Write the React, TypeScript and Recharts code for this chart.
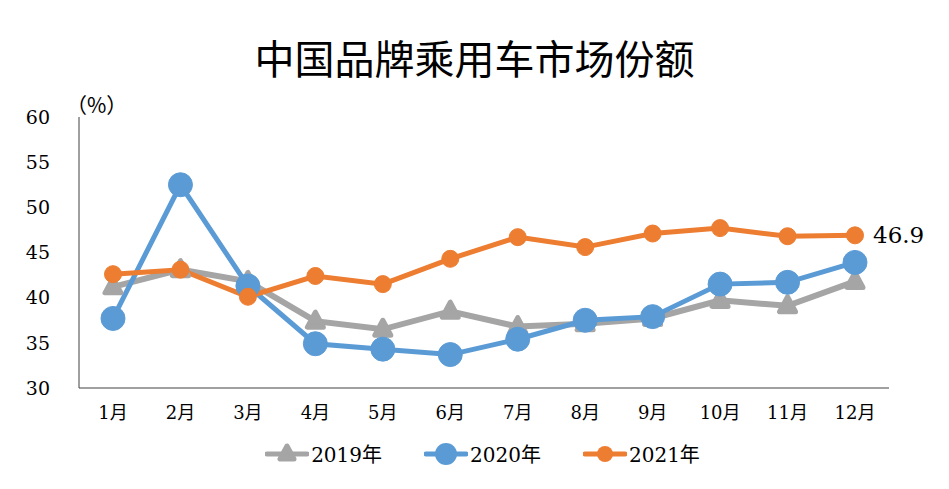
import { LineChart, Line, XAxis, YAxis, LabelList } from "recharts"

const months = ["1月", "2月", "3月", "4月", "5月", "6月", "7月", "8月", "9月", "10月", "11月", "12月"]
const share2019 = [41.2, 43.1, 41.8, 37.4, 36.5, 38.5, 36.8, 37.1, 37.7, 39.7, 39.1, 41.8]
const share2020 = [37.7, 52.5, 41.3, 34.9, 34.3, 33.7, 35.4, 37.5, 37.9, 41.5, 41.7, 43.9]
const share2021 = [42.6, 43.1, 40.1, 42.4, 41.5, 44.3, 46.7, 45.6, 47.1, 47.7, 46.8, 46.9]
const yTicks = [30, 35, 40, 45, 50, 55, 60]

const GRAY = "#a5a5a5"
const BLUE = "#5b9bd5"
const ORANGE = "#ed7d31"
const numFont = "'DejaVu Serif', 'Noto Sans CJK SC', serif"

const data = months.map((m, i) => ({
  month: m,
  y2019: share2019[i],
  y2020: share2020[i],
  y2021: share2021[i],
}))

function Triangle(props: any) {
  const { cx, cy, index } = props
  if (cx == null || cy == null) return null
  return (
    <polygon
      key={`tri-${index}`}
      points={`${cx},${cy - 9} ${cx - 8},${cy + 6} ${cx + 8},${cy + 6}`}
      fill={GRAY}
      stroke={GRAY}
      strokeWidth={5}
      strokeLinejoin="round"
    />
  )
}

function LastLabel(props: any) {
  const { x, y, index, value } = props
  if (index !== share2021.length - 1) return null
  return (
    <text x={x + 18} y={y} dy={8} fontSize={23} fontFamily={numFont} fill="#000">
      {value}
    </text>
  )
}

function LegendIcon({ type, color }: { type: string; color: string }) {
  return (
    <svg width={44} height={24} style={{ marginRight: 2 }}>
      <line x1={2} y1={12} x2={42} y2={12} stroke={color} strokeWidth={5} strokeLinecap="round" />
      {type === "triangle" ? (
        <polygon points="22,4 15,17 29,17" fill={color} stroke={color} strokeWidth={5} strokeLinejoin="round" />
      ) : (
        <circle cx={22} cy={12} r={type === "big" ? 11 : 8} fill={color} />
      )}
    </svg>
  )
}

const legendItems = [
  { name: "2019年", type: "triangle", color: GRAY },
  { name: "2020年", type: "big", color: BLUE },
  { name: "2021年", type: "small", color: ORANGE },
]

export default function App() {
  return (
    <div style={{ position: "absolute", left: 0, top: 0, width: 949, height: 489, background: "#fff", fontFamily: numFont }}>
      <div
        style={{
          position: "absolute",
          top: 28,
          left: 0,
          width: 949,
          textAlign: "center",
          fontFamily: "'Noto Sans CJK SC', sans-serif",
          fontSize: 40,
          lineHeight: "58px",
          color: "#000",
        }}
      >
        中国品牌乘用车市场份额
      </div>
      <div style={{ position: "absolute", top: 89, left: 66, fontSize: 21, fontFamily: "'Noto Sans CJK SC', sans-serif", color: "#000" }}>
        （%）
      </div>
      <LineChart width={949} height={489} data={data} margin={{ top: 117, right: 60, bottom: 61, left: 0 }}>
        <XAxis
          dataKey="month"
          axisLine={{ stroke: "#404040", strokeWidth: 1 }}
          tickLine={false}
          tickMargin={12}
          height={40}
          padding={{ left: 34, right: 34 }}
          interval={0}
          tick={{ fontSize: 18, fill: "#000", fontFamily: numFont }}
        />
        <YAxis
          domain={[30, 60]}
          ticks={yTicks}
          width={79}
          axisLine={{ stroke: "#404040", strokeWidth: 1 }}
          tickLine={false}
          tickMargin={23}
          tick={{ fontSize: 19, fill: "#000", fontFamily: numFont }}
        />
        <Line
          type="linear"
          dataKey="y2019"
          stroke={GRAY}
          strokeWidth={6}
          dot={<Triangle />}
          activeDot={false}
          isAnimationActive={false}
        />
        <Line
          type="linear"
          dataKey="y2020"
          stroke={BLUE}
          strokeWidth={5}
          dot={{ r: 12, fill: BLUE, stroke: BLUE, strokeWidth: 1 }}
          activeDot={false}
          isAnimationActive={false}
        />
        <Line
          type="linear"
          dataKey="y2021"
          stroke={ORANGE}
          strokeWidth={5}
          dot={{ r: 8.5, fill: ORANGE, stroke: ORANGE, strokeWidth: 1 }}
          activeDot={false}
          isAnimationActive={false}
        >
          <LabelList dataKey="y2021" content={<LastLabel />} />
        </Line>
      </LineChart>
      <div
        style={{
          position: "absolute",
          top: 439,
          left: 8,
          width: 949,
          display: "flex",
          justifyContent: "center",
          gap: 42,
          fontSize: 20,
          color: "#000",
        }}
      >
        {legendItems.map((it) => (
          <div key={it.name} style={{ display: "flex", alignItems: "center" }}>
            <LegendIcon type={it.type} color={it.color} />
            <span>{it.name}</span>
          </div>
        ))}
      </div>
    </div>
  )
}
